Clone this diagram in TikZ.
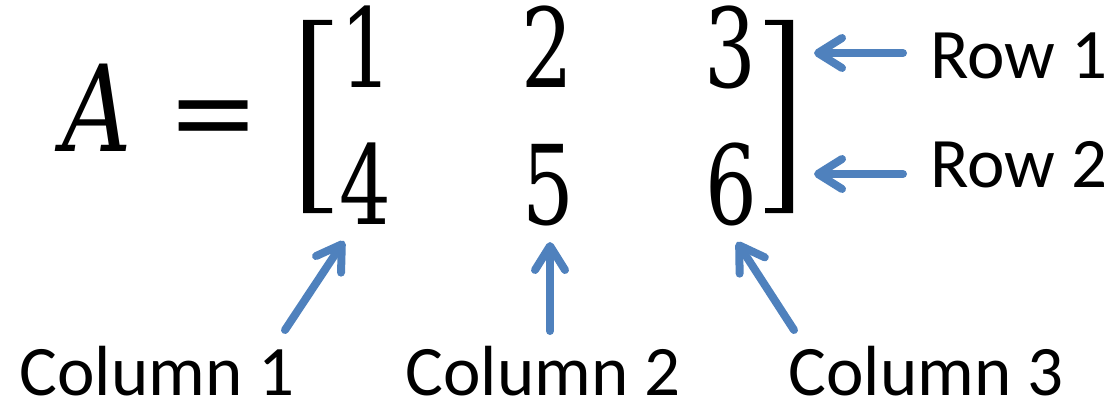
\documentclass[tikz,border=0pt]{standalone}
\usepackage{fontspec}
\newfontfamily\calib{Carlito}
\newfontfamily\mserif{DejaVu Serif}
\usetikzlibrary{arrows.meta}
\definecolor{arrowblue}{HTML}{4F81BD}
\tikzset{
  mathtxt/.style={inner sep=0pt, font=\mserif\fontsize{110}{130}\selectfont},
  lbl/.style={inner sep=0pt, anchor=base, font=\calib\fontsize{71}{84}\selectfont},
  arr/.style={draw=arrowblue, line width=8pt, line cap=round,
    -{Straight Barb[length=24pt,width=30pt,round]}},
  brk/.style={fill=black, draw=none}
}
\newcommand{\mnum}[1]{\scalebox{0.74}[1]{#1}}
\begin{document}
\begin{tikzpicture}[x=1pt,y=-1pt]
\useasboundingbox (0,0) rectangle (1114,404);
% math
\node[mathtxt, anchor=base, font=\mserif\fontsize{120}{140}\selectfont\itshape] (A) at (97,151) {\scalebox{0.8}[1]{A}};
\node[mathtxt, font=\mserif\fontsize{110}{130}\selectfont] (eq) at (214,126) {\scalebox{1.0}[1]{=}};
\node[mathtxt, anchor=base] (m11) at (366,88) {\mnum{1}};
\node[mathtxt, anchor=base] (m12) at (547,88) {\mnum{2}};
\node[mathtxt, anchor=base] (m13) at (730,88) {\mnum{3}};
\node[mathtxt, anchor=base] (m21) at (365,224) {\mnum{4}};
\node[mathtxt, anchor=base] (m22) at (548,224) {\mnum{5}};
\node[mathtxt, anchor=base] (m23) at (731,224) {\mnum{6}};
% brackets
\fill[brk] (303,20) -- (332,20) -- (332,25) -- (314,25) -- (314,208) -- (332,208) -- (332,213) -- (303,213) -- cycle;
\fill[brk] (793,20) -- (765,20) -- (765,25) -- (782,25) -- (782,208) -- (765,208) -- (765,213) -- (793,213) -- cycle;
% labels
\node[lbl, anchor=base west] (r1) at (930,78) {Row 1};
\node[lbl, anchor=base west] (r2) at (930,187) {Row 2};
\node[lbl] (c1) at (157,395) {Column 1};
\node[lbl] (c2) at (543,395) {Column 2};
\node[lbl] (c3) at (926,395) {Column 3};
% arrow ends
\coordinate (r1t) at (903,53);  \coordinate (r1h) at (814,53);
\coordinate (r2t) at (903,174); \coordinate (r2h) at (814,174);
\coordinate (c1t) at (285,330); \coordinate (c1h) at (344,241);
\coordinate (c2t) at (550,331); \coordinate (c2h) at (550,242);
\coordinate (c3t) at (794,330); \coordinate (c3h) at (737,242);
\draw[arr] (r1t) -- (r1h);
\draw[arr] (r2t) -- (r2h);
\draw[arr] (c1t) -- (c1h);
\draw[arr] (c2t) -- (c2h);
\draw[arr] (c3t) -- (c3h);
\end{tikzpicture}
\end{document}
